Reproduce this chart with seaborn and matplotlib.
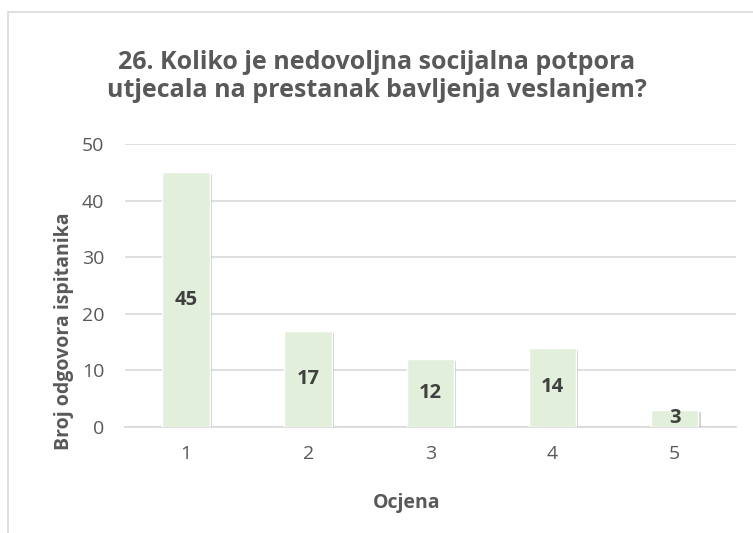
import matplotlib
matplotlib.use("Agg")
import matplotlib.pyplot as plt
import seaborn as sns
import pandas as pd
from matplotlib.patches import Rectangle
import matplotlib.patheffects as pe

ocjene = ["1", "2", "3", "4", "5"]
odgovori = [45, 17, 12, 14, 3]

sns.set_theme(style="white")
plt.rcParams['font.family'] = ['Open Sans', 'DejaVu Sans']

df = pd.DataFrame({"Ocjena": ocjene, "Broj": odgovori})

fig = plt.figure(figsize=(7.53, 5.33), dpi=100)
ax = fig.add_axes([0.166, 0.199, 0.811, 0.531])

# okvir grafikona
fig.patches.append(Rectangle((0.011, -0.01), 0.99, 0.988, transform=fig.transFigure,
                             fill=False, edgecolor="#d9d9d9", linewidth=1.2))

sns.barplot(data=df, x="Ocjena", y="Broj", color="#E2EFDA", width=0.39,
            saturation=1, ax=ax, zorder=3)
for bar in ax.patches:
    bar.set_path_effects([pe.SimplePatchShadow(offset=(1.5, -1.5), alpha=0.35, shadow_rgbFace="#7f7f7f"),
                          pe.Normal()])

for i, v in enumerate(odgovori):
    ax.text(i, v / 2, str(v), ha="center", va="center", fontsize=14.5,
            fontweight="bold", color="#404040", zorder=4)

ax.set_ylim(0, 50)
ax.set_yticks(range(0, 51, 10))
ax.set_xlim(-0.5, 4.5)
ax.yaxis.grid(True, color="#d9d9d9", linewidth=1.2, zorder=0)
ax.xaxis.grid(False)
for s in ["top", "right", "left"]:
    ax.spines[s].set_visible(False)
ax.spines["bottom"].set_color("#d9d9d9")
ax.spines["bottom"].set_linewidth(1.2)
ax.tick_params(axis="both", length=0, labelsize=14, labelcolor="#595959")
ax.tick_params(axis="y", pad=15)
ax.tick_params(axis="x", pad=13)

ax.set_xlabel("Ocjena", fontsize=14, fontweight="bold", color="#595959")
ax.set_ylabel("Broj odgovora ispitanika", fontsize=14, fontweight="bold", color="#595959")
ax.xaxis.set_label_coords(0.462, -0.234)
ax.yaxis.set_label_coords(-0.084, 0.339)

fig.suptitle("26. Koliko je nedovoljna socijalna potpora\nutjecala na prestanak bavljenja veslanjem?",
             x=0.5, y=0.907, fontsize=18, fontweight="bold", color="#595959", linespacing=1.2)

fig.savefig("out.png", dpi=100)
